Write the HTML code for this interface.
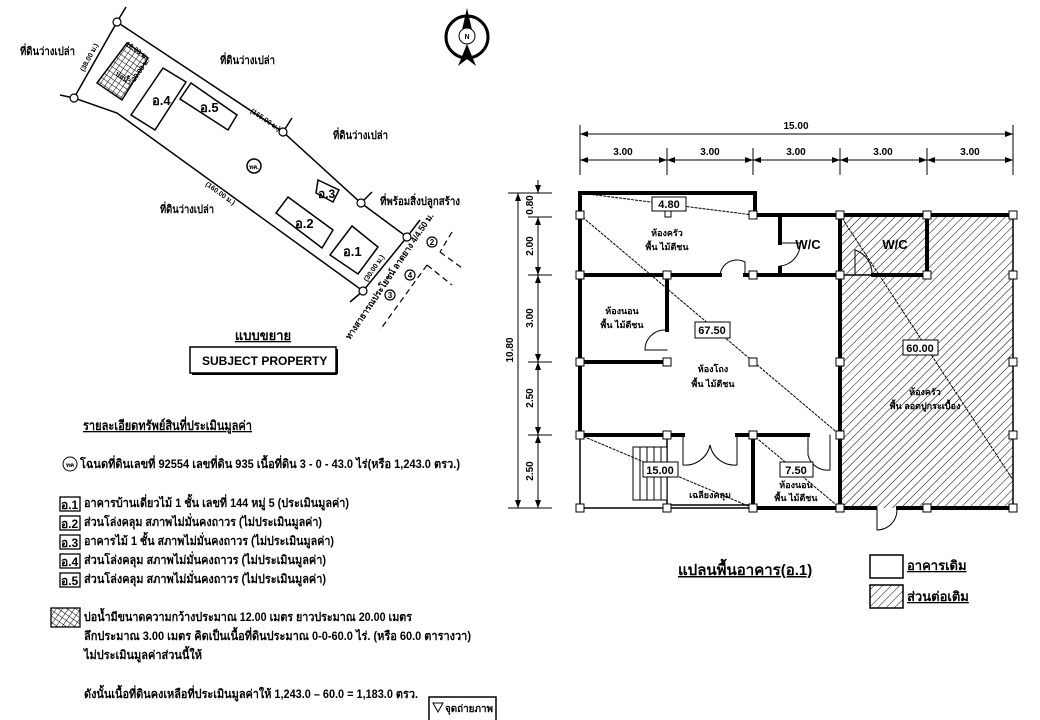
<!DOCTYPE html>
<html><head><meta charset="utf-8"><style>
html,body{margin:0;padding:0;background:#fff;width:1040px;height:720px;overflow:hidden}
svg{display:block}
text{font-family:"Liberation Sans",sans-serif;font-weight:bold;fill:#000}
</style></head><body>
<svg width="1040" height="720" viewBox="0 0 1040 720" xmlns="http://www.w3.org/2000/svg">
<defs>
<pattern id="h" width="6" height="6" patternUnits="userSpaceOnUse" patternTransform="rotate(45)"><line x1="0" y1="0" x2="0" y2="6" stroke="#000" stroke-width="1"/></pattern>
<pattern id="g" width="5" height="5" patternUnits="userSpaceOnUse" patternTransform="rotate(35)"><path d="M0 0H5M0 0V5" stroke="#000" stroke-width="1" fill="none"/></pattern>
<marker id="a" markerWidth="8" markerHeight="6" refX="8" refY="3" orient="auto-start-reverse"><path d="M0 0L8 3L0 6z"/></marker>
</defs>

<!-- SITE PLAN -->
<g stroke="#000" fill="none" stroke-width="1.5">
<polygon points="117,22 283,132 361,203 407,237 363,291 117,113 74,98"/>
<line x1="117" y1="22" x2="126" y2="7"/><line x1="74" y1="98" x2="60" y2="95"/>
<line x1="283" y1="132" x2="292" y2="118"/><line x1="361" y1="203" x2="372" y2="192"/>
<line x1="407" y1="237" x2="420" y2="220"/><line x1="363" y1="291" x2="350" y2="302"/>
<polygon points="127,43 148,58 122,100 97,83" fill="url(#g)"/>
<polygon points="163,68 186,82 155,130 131,115"/>
<polygon points="191,83 237,115 228,130 180,99"/>
<polygon points="318,180 339,190 333,202 316,193"/>
<polygon points="288,197 333,230 322,248 276,213"/>
<polygon points="352,226 378,247 358,274 330,255"/>
<circle cx="254" cy="166" r="7"/>
<g stroke-dasharray="6,4" stroke-width="1.2"><line x1="452" y1="232" x2="440" y2="252"/><line x1="440" y1="252" x2="462" y2="268"/><line x1="427" y1="265" x2="380" y2="330"/><line x1="427" y1="265" x2="452" y2="285"/></g>
</g>
<g fill="#fff" stroke="#000" stroke-width="1.2">
<circle cx="117" cy="22" r="4"/><circle cx="74" cy="98" r="4"/><circle cx="283" cy="132" r="4"/><circle cx="361" cy="203" r="4"/><circle cx="407" cy="237" r="4"/><circle cx="363" cy="291" r="4"/>
<circle cx="432" cy="242" r="5"/><circle cx="410" cy="275" r="5"/><circle cx="390" cy="295" r="5"/>
</g>
<text x="254" y="169" font-size="6" text-anchor="middle">ทค.</text>
<text x="432" y="245" font-size="8" text-anchor="middle">2</text><text x="410" y="278" font-size="8" text-anchor="middle">4</text><text x="390" y="298" font-size="8" text-anchor="middle">3</text>
<text x="152" y="105" font-size="13">อ.4</text><text x="200" y="112" font-size="13">อ.5</text>
<text x="318" y="198" font-size="12">อ.3</text><text x="295" y="228" font-size="13">อ.2</text><text x="343" y="256" font-size="13">อ.1</text>
<text x="115" y="75" font-size="7" transform="rotate(34 115 75)">บ่อน้ำ</text>
<text x="125" y="45" font-size="7" transform="rotate(34 125 45)">12.00 ม.</text>
<text x="135" y="82" font-size="7" transform="rotate(-56 135 82)">20.00 ม.</text>
<text x="84" y="72" font-size="7" transform="rotate(-62 84 72)">(38.00 ม.)</text>
<text x="250" y="112" font-size="7" transform="rotate(34 250 112)">(165.00 ม.)</text>
<text x="205" y="185" font-size="7" transform="rotate(36 205 185)">(160.00 ม.)</text>
<text x="367" y="282" font-size="7" transform="rotate(-55 367 282)">(30.00 ม.)</text>
<g font-size="11">
<text x="20" y="55" textLength="55" lengthAdjust="spacingAndGlyphs">ที่ดินว่างเปล่า</text>
<text x="220" y="64" textLength="55" lengthAdjust="spacingAndGlyphs">ที่ดินว่างเปล่า</text>
<text x="333" y="139" textLength="55" lengthAdjust="spacingAndGlyphs">ที่ดินว่างเปล่า</text>
<text x="160" y="213" textLength="54" lengthAdjust="spacingAndGlyphs">ที่ดินว่างเปล่า</text>
<text x="380" y="205" textLength="80" lengthAdjust="spacingAndGlyphs">ที่พร้อมสิ่งปลูกสร้าง</text>
</g>
<text x="350" y="340" font-size="9" textLength="150" lengthAdjust="spacingAndGlyphs" transform="rotate(-56 350 340)">ทางสาธารณประโยชน์ ลาดยาง 4/4.50 ม.</text>
<!-- compass -->
<g stroke="#000" fill="none"><circle cx="467" cy="37" r="21" stroke-width="3"/></g>
<polygon points="467,8 472,30 462,30" fill="#000"/>
<polygon points="467,44 476,66 467,59 458,66" fill="#000"/>
<circle cx="467" cy="36" r="8" fill="#fff" stroke="#000"/>
<text x="467" y="39" font-size="7" text-anchor="middle">N</text>
<text x="263" y="340" font-size="13" text-anchor="middle" text-decoration="underline">แบบขยาย</text>
<rect x="190" y="347" width="146" height="26" fill="#fff" stroke="#000" stroke-width="1.5"/>
<line x1="192" y1="374" x2="337" y2="374" stroke="#000" stroke-width="2"/><line x1="337" y1="349" x2="337" y2="374" stroke="#000" stroke-width="2"/>
<text x="202" y="365" font-size="12" font-weight="normal">SUBJECT  PROPERTY</text>

<!-- TEXT BLOCK -->
<text x="83" y="430" font-size="13" text-decoration="underline" textLength="169" lengthAdjust="spacingAndGlyphs">รายละเอียดทรัพย์สินที่ประเมินมูลค่า</text>
<circle cx="70" cy="464" r="7" fill="none" stroke="#000"/><text x="70" y="467" font-size="6" text-anchor="middle">ทค</text>
<g font-size="12">
<text x="80" y="468" textLength="380" lengthAdjust="spacingAndGlyphs">โฉนดที่ดินเลขที่ 92554 เลขที่ดิน 935  เนื้อที่ดิน 3 - 0 - 43.0 ไร่(หรือ 1,243.0 ตรว.)</text>
</g>
<g stroke="#000" fill="none" stroke-width="1.3">
<rect x="60" y="497" width="20" height="14"/><rect x="60" y="516" width="20" height="14"/><rect x="60" y="535" width="20" height="14"/><rect x="60" y="554" width="20" height="14"/><rect x="60" y="573" width="20" height="14"/>
<rect x="51" y="608" width="29" height="19" fill="url(#g)"/>
</g>
<g font-size="12">
<text x="61" y="509">อ.1</text><text x="84" y="507" textLength="265" lengthAdjust="spacingAndGlyphs">อาคารบ้านเดี่ยวไม้ 1 ชั้น เลขที่ 144 หมู่ 5 (ประเมินมูลค่า)</text>
<text x="61" y="528">อ.2</text><text x="84" y="526" textLength="238" lengthAdjust="spacingAndGlyphs">ส่วนโล่งคลุม สภาพไม่มั่นคงถาวร (ไม่ประเมินมูลค่า)</text>
<text x="61" y="547">อ.3</text><text x="84" y="545" textLength="250" lengthAdjust="spacingAndGlyphs">อาคารไม้ 1 ชั้น สภาพไม่มั่นคงถาวร (ไม่ประเมินมูลค่า)</text>
<text x="61" y="566">อ.4</text><text x="84" y="564" textLength="242" lengthAdjust="spacingAndGlyphs">ส่วนโล่งคลุม  สภาพไม่มั่นคงถาวร (ไม่ประเมินมูลค่า)</text>
<text x="61" y="585">อ.5</text><text x="84" y="583" textLength="242" lengthAdjust="spacingAndGlyphs">ส่วนโล่งคลุม  สภาพไม่มั่นคงถาวร (ไม่ประเมินมูลค่า)</text>
<text x="84" y="621" textLength="328" lengthAdjust="spacingAndGlyphs">บ่อน้ำมีขนาดความกว้างประมาณ 12.00 เมตร ยาวประมาณ 20.00 เมตร</text>
<text x="84" y="640" textLength="387" lengthAdjust="spacingAndGlyphs">ลึกประมาณ 3.00 เมตร  คิดเป็นเนื้อที่ดินประมาณ  0-0-60.0 ไร่. (หรือ 60.0 ตารางวา)</text>
<text x="84" y="659" textLength="118" lengthAdjust="spacingAndGlyphs">ไม่ประเมินมูลค่าส่วนนี้ให้</text>
<text x="84" y="698" textLength="334" lengthAdjust="spacingAndGlyphs">ดังนั้นเนื้อที่ดินคงเหลือที่ประเมินมูลค่าให้ 1,243.0 – 60.0 =  1,183.0 ตรว.</text>
</g>
<rect x="429" y="697" width="67" height="26" fill="none" stroke="#000" stroke-width="1.5"/>
<path d="M433 703 L443 703 L438 712z" fill="none" stroke="#000"/>
<text x="445" y="712" font-size="10" textLength="48" lengthAdjust="spacingAndGlyphs">จุดถ่ายภาพ</text>

<!-- FLOOR PLAN DIMENSIONS -->
<g stroke="#000" stroke-width="1" fill="none">
<line x1="580" y1="134" x2="1013" y2="134" marker-start="url(#a)" marker-end="url(#a)"/>
<line x1="580" y1="125" x2="580" y2="175"/><line x1="1013" y1="125" x2="1013" y2="175"/>
<line x1="667" y1="148" x2="667" y2="175"/><line x1="753" y1="148" x2="753" y2="175"/><line x1="840" y1="148" x2="840" y2="175"/><line x1="927" y1="148" x2="927" y2="175"/>
<line x1="580" y1="160" x2="667" y2="160" marker-start="url(#a)" marker-end="url(#a)"/>
<line x1="667" y1="160" x2="753" y2="160" marker-start="url(#a)" marker-end="url(#a)"/>
<line x1="753" y1="160" x2="840" y2="160" marker-start="url(#a)" marker-end="url(#a)"/>
<line x1="840" y1="160" x2="927" y2="160" marker-start="url(#a)" marker-end="url(#a)"/>
<line x1="927" y1="160" x2="1013" y2="160" marker-start="url(#a)" marker-end="url(#a)"/>
<line x1="518" y1="193" x2="518" y2="508" marker-start="url(#a)" marker-end="url(#a)"/>
<line x1="508" y1="193" x2="552" y2="193"/><line x1="508" y1="508" x2="552" y2="508"/>
<line x1="528" y1="217" x2="552" y2="217"/><line x1="528" y1="275" x2="552" y2="275"/><line x1="528" y1="362" x2="552" y2="362"/><line x1="528" y1="435" x2="552" y2="435"/>
<line x1="538" y1="180" x2="538" y2="193" marker-end="url(#a)"/>
<line x1="538" y1="217" x2="538" y2="275" marker-start="url(#a)" marker-end="url(#a)"/>
<line x1="538" y1="275" x2="538" y2="362" marker-start="url(#a)" marker-end="url(#a)"/>
<line x1="538" y1="362" x2="538" y2="435" marker-start="url(#a)" marker-end="url(#a)"/>
<line x1="538" y1="435" x2="538" y2="508" marker-start="url(#a)" marker-end="url(#a)"/>
</g>
<g font-size="10" text-anchor="middle">
<text x="796" y="129">15.00</text>
<text x="623" y="155">3.00</text><text x="710" y="155">3.00</text><text x="796" y="155">3.00</text><text x="883" y="155">3.00</text><text x="970" y="155">3.00</text>
<text transform="translate(513 350) rotate(-90)">10.80</text>
<text transform="translate(533 205) rotate(-90)">0.80</text>
<text transform="translate(533 246) rotate(-90)">2.00</text>
<text transform="translate(533 318) rotate(-90)">3.00</text>
<text transform="translate(533 398) rotate(-90)">2.50</text>
<text transform="translate(533 471) rotate(-90)">2.50</text>
</g>

<!-- FLOOR PLAN -->
<rect x="840" y="215" width="173" height="293" fill="url(#h)"/>
<g stroke="#000" fill="none" stroke-linecap="square">
<g stroke-width="4">
<polyline points="580,435 580,193 755,193 755,215 1013,215"/>
<line x1="840" y1="215" x2="840" y2="508"/>
<line x1="927" y1="215" x2="927" y2="275"/>
<line x1="580" y1="275" x2="720" y2="275"/><line x1="745" y1="275" x2="840" y2="275"/><line x1="873" y1="275" x2="927" y2="275"/>
<line x1="780" y1="215" x2="780" y2="243"/><line x1="780" y1="268" x2="780" y2="275"/>
<line x1="667" y1="275" x2="667" y2="330"/><line x1="580" y1="362" x2="667" y2="362"/>
<line x1="580" y1="435" x2="683" y2="435"/><line x1="737" y1="435" x2="808" y2="435"/>
<line x1="753" y1="435" x2="753" y2="508"/>
<line x1="753" y1="508" x2="875" y2="508"/><line x1="898" y1="508" x2="1013" y2="508"/>
</g>
<g stroke-width="1.5">
<line x1="1013" y1="215" x2="1013" y2="508"/>
<line x1="580" y1="435" x2="580" y2="508"/><line x1="580" y1="508" x2="753" y2="508"/><line x1="667" y1="505" x2="753" y2="505"/>
<line x1="667" y1="435" x2="667" y2="508"/>
<line x1="840" y1="275" x2="873" y2="275"/>
<path d="M720 275 A17 17 0 0 1 745 262 L745 275" stroke-width="1"/>
<path d="M780 243 L800 243 A22 22 0 0 1 780 266" stroke-width="1"/>
<path d="M667 330 A20 20 0 0 0 645 350 L667 350" stroke-width="1"/>
<path d="M683 435 L683 465 A25 25 0 0 0 710 445 A25 25 0 0 0 737 465 L737 435" stroke-width="1"/>
<path d="M808 435 L808 455 A20 20 0 0 0 830 470 L830 435" stroke-width="1"/>
<path d="M855 275 L855 250 A25 25 0 0 1 872 275" stroke-width="1"/>
<path d="M877 508 L877 530 A20 20 0 0 0 897 510" stroke-width="1"/>
<rect x="633" y="447" width="34" height="53" fill="#fff" stroke-width="1"/>
<path d="M640 447V500M647 447V500M654 447V500M661 447V500" stroke-width="1"/>
</g>
<g stroke-width="1" stroke-dasharray="2,2">
<line x1="580" y1="193" x2="753" y2="215"/>
<line x1="580" y1="215" x2="840" y2="435"/>
<line x1="580" y1="435" x2="753" y2="508"/>
<line x1="753" y1="435" x2="840" y2="508"/>
<line x1="840" y1="215" x2="1013" y2="480"/>
</g>
</g>
<g fill="#fff" stroke="#000" stroke-width="1">
<rect x="576" y="211" width="8" height="8"/><rect x="749" y="211" width="8" height="8"/><rect x="836" y="211" width="8" height="8"/><rect x="923" y="211" width="8" height="8"/><rect x="1009" y="211" width="8" height="8"/>
<rect x="576" y="271" width="8" height="8"/><rect x="663" y="271" width="8" height="8"/><rect x="749" y="271" width="8" height="8"/><rect x="836" y="271" width="8" height="8"/><rect x="923" y="271" width="8" height="8"/><rect x="1009" y="271" width="8" height="8"/>
<rect x="576" y="358" width="8" height="8"/><rect x="663" y="358" width="8" height="8"/><rect x="749" y="358" width="8" height="8"/><rect x="836" y="358" width="8" height="8"/><rect x="1009" y="358" width="8" height="8"/>
<rect x="576" y="431" width="8" height="8"/><rect x="663" y="431" width="8" height="8"/><rect x="749" y="431" width="8" height="8"/><rect x="836" y="431" width="8" height="8"/><rect x="1009" y="431" width="8" height="8"/>
<rect x="576" y="504" width="8" height="8"/><rect x="663" y="504" width="8" height="8"/><rect x="749" y="504" width="8" height="8"/><rect x="836" y="504" width="8" height="8"/><rect x="923" y="504" width="8" height="8"/><rect x="1009" y="504" width="8" height="8"/>
<rect x="665" y="211" width="6" height="6"/>
<rect x="652" y="197" width="34" height="14"/><rect x="695" y="322" width="35" height="16"/><rect x="903" y="340" width="35" height="15"/><rect x="643" y="462" width="35" height="15"/><rect x="780" y="462" width="33" height="15"/>
</g>
<g font-size="11" text-anchor="middle">
<text x="669" y="208">4.80</text><text x="712" y="334">67.50</text><text x="920" y="352">60.00</text><text x="660" y="474">15.00</text><text x="796" y="474">7.50</text>
<text x="808" y="249" font-size="13">W/C</text><text x="895" y="249" font-size="13">W/C</text>
</g>
<g font-size="9" text-anchor="middle">
<text x="667" y="236">ห้องครัว</text><text x="667" y="250">พื้น ไม้ตีชน</text>
<text x="622" y="314">ห้องนอน</text><text x="622" y="328">พื้น ไม้ตีชน</text>
<text x="713" y="372">ห้องโถง</text><text x="713" y="387">พื้น ไม้ตีชน</text>
<text x="925" y="395">ห้องครัว</text><text x="925" y="409">พื้น ลอดปูกระเบื้อง</text>
<text x="710" y="498">เฉลียงคลุม</text>
<text x="796" y="488">ห้องนอน</text><text x="796" y="501">พื้น ไม้ตีชน</text>
</g>
<text x="678" y="575" font-size="15" text-decoration="underline">แปลนพื้นอาคาร(อ.1)</text>
<rect x="870" y="555" width="33" height="23" fill="#fff" stroke="#000" stroke-width="1.5"/>
<rect x="870" y="585" width="33" height="23" fill="url(#h)" stroke="#000" stroke-width="1.5"/>
<text x="907" y="570" font-size="13" text-decoration="underline">อาคารเดิม</text>
<text x="907" y="601" font-size="13" text-decoration="underline">ส่วนต่อเติม</text>
</svg>
</body></html>
